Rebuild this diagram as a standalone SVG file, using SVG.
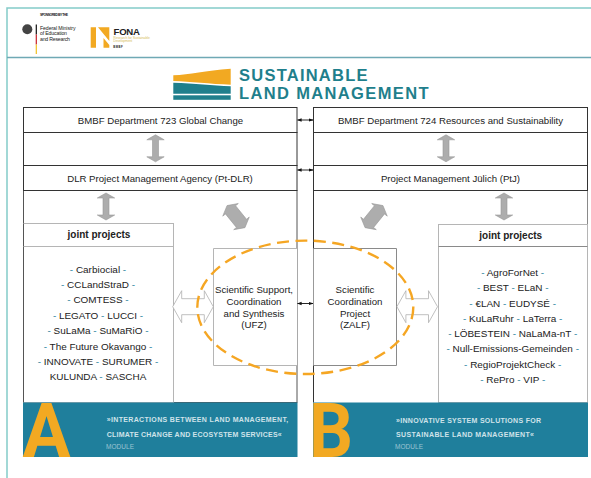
<svg xmlns="http://www.w3.org/2000/svg" width="591" height="478" viewBox="0 0 591 478">
<style>
text{font-family:"Liberation Sans",Arial,sans-serif;fill:#222}
.m{text-anchor:middle}
.b{font-size:9.65px}
.p{font-size:9.95px;text-anchor:middle}
.d{fill:#1f7f9c}
.j{font-size:10px;font-weight:bold;text-anchor:middle}
.s{font-size:9.7px;text-anchor:middle}
.box{fill:#fff;stroke:#333;stroke-width:1}
.lt{fill:#fff;stroke:#b5b5b5;stroke-width:1}
.band{fill:#1f7f9c}
.bt{font-size:7px;font-weight:bold;fill:#cfe3ea}
.mod{font-size:6.5px;fill:#9cc4d2}
.big{font-family:Roboto,"Liberation Sans",sans-serif;font-weight:bold;font-size:76px;fill:#f2a922}
.logo{font-family:"Liberation Sans",sans-serif;font-weight:bold;font-size:16.5px;fill:#1f7f8c}
.ga{fill:#adadad;stroke:#999;stroke-width:.6}
.ha{fill:#fff;stroke:#b0b0b0;stroke-width:.8}
.c{stroke:#111;stroke-width:.9;fill:none;marker-start:url(#h);marker-end:url(#h)}
</style>
<defs>
<marker id="h" viewBox="0 0 6 6" refX="5.5" refY="3" markerWidth="5" markerHeight="5" orient="auto-start-reverse"><path d="M0 .8L6 3L0 5.2z" fill="#111"/></marker>
<path id="dbl" d="M0-13.5L8.7-8.5H3V8.5H8.7L0 13.5L-8.7 8.5H-3V-8.5H-8.7z"/>
<path id="fat" d="M0-14.2L10-8.7H6.5V8.7H10L0 14.2L-10 8.7H-6.5V-8.7H-10z"/>
<path id="hol" d="M-20.3 0L-11.3-16V-8H11.3V-16L20.3 0L11.3 16V8H-11.3V16z"/>
</defs>
<rect width="591" height="478" fill="#fff"/>
<g id="frame" fill="none">
<path d="M591 8H7V478" stroke="#84cbc9" stroke-width="1.5"/>
<path d="M7 57.5H591" stroke="#6fa9b5" stroke-width="1.5"/>
</g>
<g id="sponsor">
<text x="40" y="15.6" font-size="3.4" font-weight="bold" textLength="28">SPONSORED BY THE</text>
<ellipse cx="27.3" cy="29.3" rx="5" ry="5" fill="#444"/>
<rect x="35.7" y="24.5" width="1.2" height="10" fill="#111"/>
<rect x="35.7" y="34.5" width="1.2" height="10" fill="#c8202a"/>
<rect x="35.7" y="44.5" width="1.2" height="9.5" fill="#f0c020"/>
<text x="40" y="29.5" font-size="5.2" textLength="35.5">Federal Ministry</text>
<text x="40" y="35" font-size="5.2" textLength="27">of Education</text>
<text x="40" y="40.5" font-size="5.2" textLength="30">and Research</text>
<path d="M90.7 27.3H96V47.7H90.7zM98 27.3H109.3V41zM103.5 38L109.3 45V47.7H103.5z" fill="#f2a922"/>
<text x="113.5" y="34.8" font-size="9.6" font-weight="bold" textLength="26.5">FONA</text>
<text x="113.3" y="38.9" font-size="3.4" style="fill:#d8c060" textLength="36.5">Research for Sustainable</text>
<text x="113.3" y="42.4" font-size="3.4" style="fill:#d8c060" textLength="19">Development</text>
<text x="113.3" y="47.6" font-size="2.8" font-weight="bold" textLength="9.5">BMBF</text>
</g>
<g id="logo">
<path d="M173.3 75.3C190 74.5 205 70.5 230.7 68.7V84.7C210 84 190 81.5 173.3 81z" fill="#f2a922"/>
<path d="M173.3 82.7C195 83.5 212 85.5 230.7 86.3V93.7H173.3z" fill="#1f7f8c"/>
<rect x="173.3" y="95.3" width="57.4" height="4.5" fill="#1f7f8c"/>
<text class="logo" x="239" y="81.3" textLength="128.5">SUSTAINABLE</text>
<text class="logo" x="239" y="99.3" textLength="189.5">LAND MANAGEMENT</text>
</g>
<g id="module-a-frame"><rect x="23.5" y="190.5" width="273.5" height="212" fill="#fff" stroke="#555"/></g>
<g id="module-b-frame"><path d="M313.5 190.5V402.5" fill="none" stroke="#333"/><path d="M587.5 190.5V402.5" stroke="#8a8a8a"/></g>
<g id="bmbf-723"><rect class="box" x="23.5" y="107.5" width="273.5" height="25"/><text class="b m" x="160.5" y="124">BMBF Department 723 Global Change</text></g>
<g id="link-left"><rect class="box" x="23.5" y="132.5" width="273.5" height="33"/></g>
<g id="dlr"><rect class="box" x="23.5" y="165.5" width="273.5" height="25"/><text class="b m" x="160" y="182">DLR Project Management Agency (Pt-DLR)</text></g>
<g id="bmbf-724"><rect class="box" x="313.5" y="107.5" width="274" height="25"/><text class="b m" x="450.5" y="124">BMBF Department 724 Resources and Sustainability</text></g>
<g id="link-right"><rect class="box" x="313.5" y="132.5" width="274" height="33"/></g>
<g id="ptj"><rect class="box" x="313.5" y="165.5" width="274" height="25"/><text class="b m" x="450.5" y="182">Project Management Jülich (PtJ)</text></g>
<g id="joint-a">
<rect class="lt" x="23.5" y="223.5" width="150" height="179"/>
<path d="M23.5 223.5V402.5" stroke="#555" fill="none"/>
<path d="M23.5 246.5H173.5" stroke="#b5b5b5" fill="none"/>
<text class="j" x="99" y="238">joint projects</text>
<text class="p" x="98" y="273.3"><tspan class="d">- </tspan>Carbiocial<tspan class="d"> -</tspan></text>
<text class="p" x="98" y="288.3"><tspan class="d">- </tspan>CCLandStraD<tspan class="d"> -</tspan></text>
<text class="p" x="98" y="303.3"><tspan class="d">- </tspan>COMTESS<tspan class="d"> -</tspan></text>
<text class="p" x="98" y="319"><tspan class="d">- </tspan>LEGATO<tspan class="d"> - </tspan>LUCCI<tspan class="d"> -</tspan></text>
<text class="p" x="98" y="334"><tspan class="d">- </tspan>SuLaMa<tspan class="d"> - </tspan>SuMaRiO<tspan class="d"> -</tspan></text>
<text class="p" x="98" y="349.7"><tspan class="d">- </tspan>The Future Okavango<tspan class="d"> -</tspan></text>
<text class="p" x="98" y="364.7"><tspan class="d">- </tspan>INNOVATE<tspan class="d"> - </tspan>SURUMER<tspan class="d"> -</tspan></text>
<text class="p" x="98" y="379.7">KULUNDA<tspan class="d"> - </tspan>SASCHA</text>
</g>
<g id="joint-b">
<rect class="lt" x="438.5" y="224.5" width="149" height="178"/>
<path d="M438.5 246.5H587.5" stroke="#8a8a8a" fill="none"/>
<text class="j" x="510.7" y="239.3">joint projects</text>
<text class="p" x="512.7" y="276"><tspan class="d">- </tspan>AgroForNet<tspan class="d"> -</tspan></text>
<text class="p" x="512.7" y="291.3"><tspan class="d">- </tspan>BEST<tspan class="d"> - </tspan>ELaN<tspan class="d"> -</tspan></text>
<text class="p" x="512.7" y="306.7"><tspan class="d">- </tspan>€LAN<tspan class="d"> - </tspan>EUDYSÉ<tspan class="d"> -</tspan></text>
<text class="p" x="512.7" y="321.7"><tspan class="d">- </tspan>KuLaRuhr<tspan class="d"> - </tspan>LaTerra<tspan class="d"> -</tspan></text>
<text class="p" x="512.7" y="337.3"><tspan class="d">- </tspan>LÖBESTEIN<tspan class="d"> - </tspan>NaLaMa-nT<tspan class="d"> -</tspan></text>
<text class="p" x="512.7" y="352.3"><tspan class="d">- </tspan>Null-Emissions-Gemeinden<tspan class="d"> -</tspan></text>
<text class="p" x="512.7" y="367.7"><tspan class="d">- </tspan>RegioProjektCheck<tspan class="d"> -</tspan></text>
<text class="p" x="512.7" y="382.7"><tspan class="d">- </tspan>RePro<tspan class="d"> - </tspan>VIP<tspan class="d"> -</tspan></text>
</g>
<g id="ufz">
<path class="lt" d="M297 248.5H213.5V365.5H297"/>
<text class="s" x="254" y="293">Scientific Support,</text>
<text class="s" x="254" y="305">Coordination</text>
<text class="s" x="254" y="316.7">and Synthesis</text>
<text class="s" x="254" y="328.3">(UFZ)</text>
</g>
<g id="zalf">
<path d="M313.5 248.5H396.5V365.5H313.5" fill="#fff" stroke="#8a8a8a"/>
<text class="s" x="355" y="293">Scientific</text>
<text class="s" x="355" y="305">Coordination</text>
<text class="s" x="355" y="316.7">Project</text>
<text class="s" x="355" y="328.3">(ZALF)</text>
</g>
<g id="module-a">
<rect class="band" x="23" y="402.5" width="274.5" height="54.5"/>
<text class="big" x="22.5" y="457" textLength="48" lengthAdjust="spacingAndGlyphs">A</text>
<text class="bt" x="106.7" y="422.3" textLength="181.5">»INTERACTIONS BETWEEN LAND MANAGEMENT,</text>
<text class="bt" x="106.7" y="436.7" textLength="175">CLIMATE CHANGE AND ECOSYSTEM SERVICES«</text>
<text class="mod" x="106" y="449" textLength="28">MODULE</text>
</g>
<g id="module-b">
<rect class="band" x="313" y="402.5" width="275" height="54.5"/>
<text class="big" x="309" y="457" textLength="44" lengthAdjust="spacingAndGlyphs">B</text>
<text class="bt" x="396" y="422.7" textLength="145">»INNOVATIVE SYSTEM SOLUTIONS FOR</text>
<text class="bt" x="396" y="436.7" textLength="138">SUSTAINABLE LAND MANAGEMENT«</text>
<text class="mod" x="395" y="449" textLength="28">MODULE</text>
</g>
<g id="connectors">
<path class="c" d="M297.5 120H313"/>
<path class="c" d="M297.5 170H313"/>
<path class="c" d="M297.5 303.5H313"/>
<use href="#dbl" class="ga" x="155.5" y="148.3"/>
<use href="#dbl" class="ga" x="106" y="206.5"/>
<use href="#dbl" class="ga" x="446" y="148.3"/>
<use href="#dbl" class="ga" x="504" y="206.5"/>
<use href="#fat" class="ga" transform="translate(236 216.6) rotate(-39)"/>
<use href="#fat" class="ga" transform="translate(374 216.6) rotate(39)"/>
<use href="#hol" class="ha" x="193" y="306.7"/>
<use href="#hol" class="ha" x="417.2" y="306.7"/>
</g>
<g id="focus"><ellipse cx="305.3" cy="307.3" rx="108" ry="66.7" fill="none" stroke="#f5a623" stroke-width="2.4" stroke-dasharray="12 6.5"/></g>
</svg>
